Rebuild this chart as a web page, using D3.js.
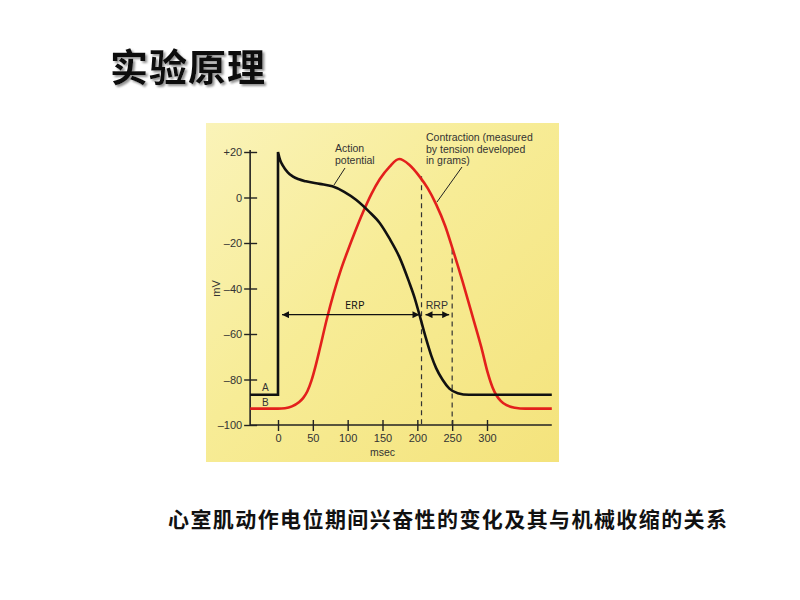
<!DOCTYPE html>
<html><head><meta charset="utf-8">
<script src="https://cdn.jsdelivr.net/npm/d3@7"></script>
<style>body{margin:0;background:#fff}svg{display:block}</style>
</head><body>
<script>
// ---- data ----
const yTicks = [20, 0, -20, -40, -60, -80, -100];
const yTickLabels = ["+20", "0", "\u201320", "\u201340", "\u201360", "\u201380", "\u2013100"];
const xTicks = [0, 50, 100, 150, 200, 250, 300];
const xTickLabels = ["0", "50", "100", "150", "200", "250", "300"];
// action potential (msec, mV)
const apTime = [-40, 0, 0, 3, 7, 14, 21, 30, 40, 60, 78, 95, 112, 130, 146, 160, 174, 188, 196, 203, 212, 220, 227, 236, 246, 258, 274, 393];
const apMv   = [-86.7, -86.7, 20, 16.5, 14, 11, 9.3, 8, 7.1, 6, 4.9, 2.5, -1, -6, -11.2, -18, -26, -37, -44, -51.5, -61.5, -69.5, -75, -80, -84, -86, -86.7, -86.7];
// contraction (drawn on the same vertical scale)
const ctTime = [-40, 0, 10, 20, 30, 36, 42, 48, 54, 60, 70, 80, 90, 100, 110, 122, 134, 146, 160, 174, 188, 203, 215, 227, 240, 251, 265, 280, 292, 301, 308, 313, 320, 328, 340, 355, 393];
const ctVal  = [-92.8, -92.8, -92.6, -91.8, -90, -88.2, -85.3, -80.5, -74, -66.5, -53.5, -42, -32, -23.5, -15.5, -6.5, 1.5, 8, 13.5, 16.9, 14.5, 9.3, 4, -3, -12.5, -22.9, -37, -53, -66, -77, -83.5, -86.7, -89.5, -91.3, -92.4, -92.8, -92.8];
const periodNames = ["ERP", "RRP"];
const periodStart = [0, 206];
const periodEnd = [206, 250];
const periodLevel = -51.5;
const dashTimes = [206, 250];
const dashTop = [9.3, -22.9];
const titleText = "实验原理";
const captionText = "心室肌动作电位期间兴奋性的变化及其与机械收缩的关系";

// ---- drawing ----
const W = 800, H = 600;
const svg = d3.select("body").append("svg").attr("width", W).attr("height", H);
const defs = svg.append("defs");
const grad = defs.append("linearGradient").attr("id", "bg").attr("x1", "0").attr("y1", "0").attr("x2", "1").attr("y2", "1");
grad.append("stop").attr("offset", "0%").attr("stop-color", "#faf3b8");
grad.append("stop").attr("offset", "45%").attr("stop-color", "#f7ec96");
grad.append("stop").attr("offset", "100%").attr("stop-color", "#f4e37c");
defs.append("marker").attr("id", "arr").attr("viewBox", "0 0 10 10")
  .attr("refX", 10).attr("refY", 5).attr("markerWidth", 9).attr("markerHeight", 7)
  .attr("markerUnits", "userSpaceOnUse").attr("orient", "auto-start-reverse")
  .append("path").attr("d", "M0,0 L10,5 L0,10 Z").attr("fill", "#111");
const sh = defs.append("filter").attr("id", "shadow").attr("x", "-10%").attr("y", "-20%").attr("width", "130%").attr("height", "150%");
sh.append("feDropShadow").attr("dx", 2).attr("dy", 2).attr("stdDeviation", 1.2).attr("flood-color", "#777").attr("flood-opacity", 0.8);

// title
svg.append("text").attr("x", 110).attr("y", 81).text(titleText)
  .attr("font-family", "Noto Sans CJK SC").attr("font-weight", "bold").attr("font-size", 38)
  .attr("fill", "#111").attr("letter-spacing", 1).attr("filter", "url(#shadow)");

// panel
svg.append("rect").attr("x", 206).attr("y", 123).attr("width", 353).attr("height", 339).attr("fill", "url(#bg)");

const x = d3.scaleLinear().domain([0, 300]).range([278, 487]);
const y = d3.scaleLinear().domain([-100, 20]).range([425, 152]);
const tMin = -40, tMax = 393;
const font = "Liberation Sans, Arial, sans-serif";
const g = svg.append("g").attr("font-family", font).attr("fill", "#222");

// y axis
const yAx = d3.axisLeft(y).tickValues(yTicks).tickSize(6).tickFormat((d, i) => yTickLabels[i]);
const ya = g.append("g").attr("transform", `translate(${x(tMin)},0)`).call(yAx);
ya.select(".domain").attr("d", `M0,${y(20) - 2}V${y(-100)}`).attr("stroke", "#222").attr("stroke-width", 1.6);
ya.selectAll(".tick line").attr("x1", -6).attr("x2", 7).attr("stroke", "#222").attr("stroke-width", 1.4);
ya.selectAll(".tick text").attr("x", -8).attr("font-size", 11).attr("font-family", font).attr("fill", "#333");

// x axis
const xAx = d3.axisBottom(x).tickValues(xTicks).tickSize(6).tickFormat((d, i) => xTickLabels[i]);
const xa = g.append("g").attr("transform", `translate(0,${y(-100)})`).call(xAx);
xa.select(".domain").attr("d", `M${x(tMin)},0H${x(tMax)}`).attr("stroke", "#222").attr("stroke-width", 1.6);
xa.selectAll(".tick line").attr("y1", -5).attr("y2", 6).attr("stroke", "#222").attr("stroke-width", 1.4);
xa.selectAll(".tick text").attr("y", 9).attr("font-size", 11).attr("font-family", font).attr("fill", "#333");

g.append("text").attr("transform", `translate(220,${y(-40)}) rotate(-90)`).attr("text-anchor", "middle")
  .attr("font-size", 11).attr("fill", "#333").text("mV");
g.append("text").attr("x", x(150)).attr("y", 456).attr("text-anchor", "middle")
  .attr("font-size", 10.5).attr("fill", "#333").text("msec");

// dashed lines
dashTimes.forEach((t, i) => {
  g.append("line").attr("x1", x(t)).attr("x2", x(t)).attr("y1", y(dashTop[i])).attr("y2", y(-100))
    .attr("stroke", "#333").attr("stroke-width", 1.2).attr("stroke-dasharray", "5,4");
});

// contraction curve
const ctPts = ctTime.map((t, i) => [t, ctVal[i]]);
const line = d3.line().x(d => x(d[0])).y(d => y(d[1])).curve(d3.curveMonotoneX);
g.append("path").attr("d", line(ctPts)).attr("fill", "none").attr("stroke", "#e3201c").attr("stroke-width", 2.6);

// action potential: linear for baseline + upstroke, smooth afterwards
const apPts = apTime.map((t, i) => [t, apMv[i]]);
const lin = d3.line().x(d => x(d[0])).y(d => y(d[1]));
g.append("path").attr("d", lin(apPts.slice(0, 3)) + line(apPts.slice(2)).replace(/^M/, "L"))
  .attr("fill", "none").attr("stroke", "#111").attr("stroke-width", 2.6).attr("stroke-linejoin", "miter");

// refractory period arrows
periodNames.forEach((n, i) => {
  const x1 = x(periodStart[i]) + 4;
  const x2 = x(periodEnd[i]) - (i === 0 ? 2 : 3);
  g.append("line").attr("x1", x1).attr("x2", x2)
    .attr("y1", y(periodLevel)).attr("y2", y(periodLevel))
    .attr("stroke", "#111").attr("stroke-width", 1.4)
    .attr("marker-start", "url(#arr)").attr("marker-end", "url(#arr)");
  g.append("text").attr("x", (x(periodStart[i]) + x(periodEnd[i])) / 2 + (i === 0 ? 5 : 0)).attr("y", y(periodLevel) - 6)
    .attr("text-anchor", "middle").attr("font-size", i === 0 ? 11 : 10.5)
    .attr("font-family", i === 0 ? "Open Sans, sans-serif" : font)
    .attr("fill", i === 0 ? "#111" : "#333").text(n);
});

// A / B labels
g.append("text").attr("x", 262).attr("y", 391).attr("font-size", 10).attr("fill", "#333").text("A");
g.append("text").attr("x", 262).attr("y", 406).attr("font-size", 10).attr("fill", "#333").text("B");

// annotations
const ann1 = ["Action", "potential"];
ann1.forEach((s, i) => g.append("text").attr("x", 335).attr("y", 152 + i * 12).attr("font-size", 10.5).attr("fill", "#333").text(s));
g.append("line").attr("x1", 345).attr("y1", 168).attr("x2", 334).attr("y2", 185).attr("stroke", "#222").attr("stroke-width", 1);
const ann2 = ["Contraction (measured", "by tension developed", "in grams)"];
ann2.forEach((s, i) => g.append("text").attr("x", 426).attr("y", 141 + i * 11.5).attr("font-size", 10.5).attr("fill", "#333").text(s));
g.append("line").attr("x1", 462).attr("y1", 167).attr("x2", 437).attr("y2", 202).attr("stroke", "#222").attr("stroke-width", 1);

// caption
svg.append("text").attr("x", 168).attr("y", 527).text(captionText)
  .attr("font-family", "Noto Sans CJK SC").attr("font-weight", "bold").attr("font-size", 21)
  .attr("fill", "#111").attr("textLength", 559).attr("lengthAdjust", "spacing");
</script>
</body></html>
